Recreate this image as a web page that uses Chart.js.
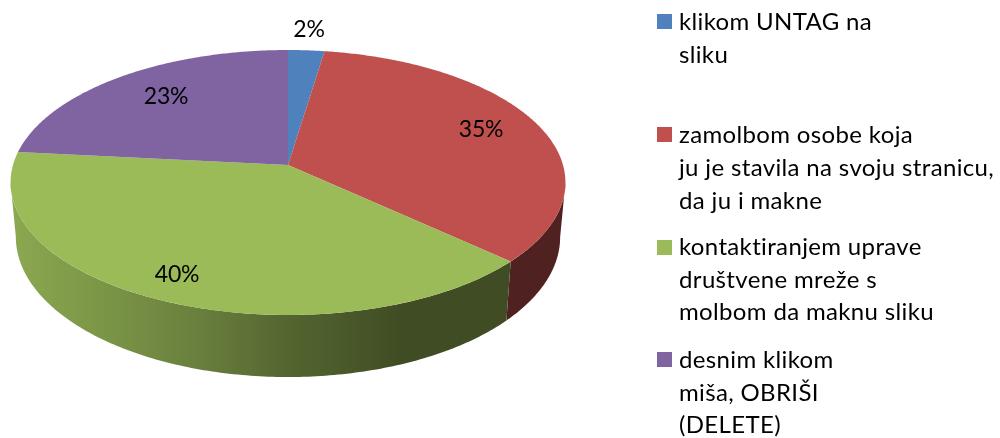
<!DOCTYPE html>
<html><head><meta charset="utf-8">
<style>html,body{margin:0;padding:0;background:#fff}canvas{display:block}</style>
<script src="https://cdn.jsdelivr.net/npm/chart.js@4"></script>
</head><body>
<canvas id="c" width="1000" height="438"></canvas>
<script>
const categories = ["klikom UNTAG na sliku","zamolbom osobe koja ju je stavila na svoju stranicu, da ju i makne","kontaktiranjem uprave društvene mreže s molbom da maknu sliku","desnim klikom miša, OBRIŠI (DELETE)"];
const values = [2.4, 34.4, 39.8, 23.4];
const percentLabels = ["2%","35%","40%","23%"];
const colors = ["#4F81BD","#C0504D","#9BBB59","#8064A2"];
const legendLines = [["klikom UNTAG na","sliku"],["zamolbom osobe koja","ju je stavila na svoju stranicu,","da ju i makne"],["kontaktiranjem uprave","društvene mreže s","molbom da maknu sliku"],["desnim klikom","miša, OBRIŠI","(DELETE)"]];

const FONT = '23px Lato, Carlito, sans-serif';
const LEGEND_FONT = '24px Lato, Carlito, sans-serif';
const LS = '-0.2px';
const LEGEND_LS = '0.35px';
const P = {cx:288, cy:165, a:275, b:108.4, k:-0.132, botCy:237, botRy:140, botScale:0.981};
const labelAt = [[309,30],[481,130],[177,275],[166,97]];
const legendY = [[22,55],[135,168,201],[247,280,312],[360,393,425]];
const boxY = [14,127,240,352];

function topPt(theta){
  const x=Math.sin(theta), y=-Math.cos(theta), w=1+P.k*y;
  return [P.cx+P.a*x/w, (P.cy+P.b*y)/w];
}
function botPt(pt){
  const X=(pt[0]-P.cx)*P.botScale;
  const r=Math.min(1,Math.abs(X)/(P.a*1.0088*P.botScale));
  return [P.cx+X, P.botCy+P.botRy*Math.sqrt(1-r*r)];
}
const TL=97.6*Math.PI/180, TR=262.4*Math.PI/180;
function hex(c,f){const n=parseInt(c.slice(1),16);return `rgb(${(n>>16&255)*f},${(n>>8&255)*f},${(n&255)*f})`;}

const pie3d = {
  id:'pie3d',
  beforeDatasetsDraw(chart){
    const ctx=chart.ctx, arcs=chart.getDatasetMeta(0).data;
    arcs.forEach((arc,i)=>{
      const s=Math.max(arc.startAngle+Math.PI/2,TL), e=Math.min(arc.endAngle+Math.PI/2,TR);
      if(e<=s) return;
      const pts=[];const n=160;
      for(let j=0;j<=n;j++) pts.push(topPt(s+(e-s)*j/n));
      ctx.beginPath();
      pts.forEach((p,j)=>j?ctx.lineTo(p[0],p[1]):ctx.moveTo(p[0],p[1]));
      for(let j=n;j>=0;j--){const q=botPt(pts[j]);ctx.lineTo(q[0],q[1]);}
      ctx.closePath();
      const g=ctx.createLinearGradient(11,0,566,0);
      const c=colors[i];
      [[0,.90],[.16,.80],[.34,.68],[.5,.54],[.7,.41],[1,.41]].forEach(st=>g.addColorStop(st[0],hex(c,st[1])));
      ctx.fillStyle=g;ctx.fill();
    });
    arcs.forEach((arc,i)=>{
      const s=arc.startAngle+Math.PI/2, e=arc.endAngle+Math.PI/2;
      ctx.beginPath();ctx.moveTo(P.cx,P.cy);
      const n=Math.max(20,Math.round((e-s)*120));
      for(let j=0;j<=n;j++){const p=topPt(s+(e-s)*j/n);ctx.lineTo(p[0],p[1]);}
      ctx.closePath();
      ctx.fillStyle=arc.options.backgroundColor;ctx.fill();
    });
    return false;
  },
  afterDraw(chart){
    const ctx=chart.ctx;
    ctx.save();
    ctx.font=FONT;ctx.fillStyle='#000';ctx.textBaseline='middle';
    ctx.letterSpacing=LS;
    ctx.textAlign='center';
    percentLabels.forEach((t,i)=>ctx.fillText(t,labelAt[i][0],labelAt[i][1]));
    ctx.font=LEGEND_FONT;ctx.letterSpacing=LEGEND_LS;
    ctx.textAlign='left';
    legendLines.forEach((ls,i)=>{
      ctx.fillStyle=colors[i];ctx.fillRect(657,boxY[i],15,15);
      ctx.fillStyle='#000';
      ls.forEach((t,j)=>ctx.fillText(t,679,legendY[i][j]));
    });
    ctx.restore();
  }
};
new Chart(document.getElementById('c'),{
  type:'pie',
  data:{labels:categories,datasets:[{data:values,backgroundColor:colors,borderWidth:0}]},
  options:{responsive:false,animation:false,devicePixelRatio:1,
    plugins:{legend:{display:false},tooltip:{enabled:false}}},
  plugins:[pie3d]
});
</script>
</body></html>
